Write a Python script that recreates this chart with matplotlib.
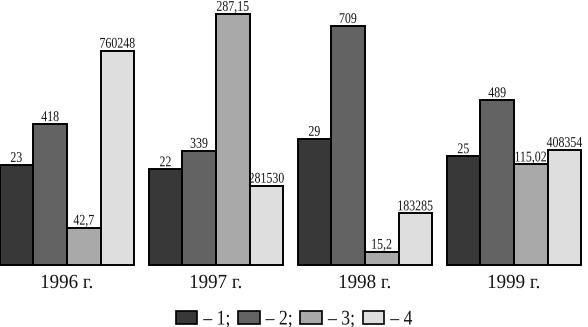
import matplotlib
matplotlib.use("Agg")
import matplotlib.pyplot as plt
from matplotlib.patches import PathPatch, Rectangle
from matplotlib.textpath import TextPath
from matplotlib.font_manager import FontProperties
from matplotlib.transforms import Affine2D, IdentityTransform

# Data
years = ["1996 г.", "1997 г.", "1998 г.", "1999 г."]
s1 = [23, 22, 29, 25]
s2 = [418, 339, 709, 489]
s3 = [42.7, 287.15, 15.2, 115.02]
s4 = [760248, 281530, 183285, 408354]
s1_labels = ["23", "22", "29", "25"]
s2_labels = ["418", "339", "709", "489"]
s3_labels = ["42,7", "287,15", "15,2", "115,02"]
s4_labels = ["760248", "281530", "183285", "408354"]
legend_labels = ["– 1;", "– 2;", "– 3;", "– 4"]

# each series is drawn on its own scale: value reaching the top of the axes
series_top = [60.9, 786, 303, 940000]
colors = ["#383838", "#636363", "#a9a9a9", "#dedede"]
text_color = "#151515"

W, H = 588, 327
fig = plt.figure(figsize=(W / 100, H / 100), dpi=100)
base_px = 265
ax = fig.add_axes([0, (H - base_px) / H, 1, base_px / H])
ax.set_xlim(0, W)
ax.set_ylim(0, 1)
ax.axis("off")

serif = FontProperties(family="Liberation Serif")


def narrow_text(x, y_top, s, size_pt, sx=1.0, ha="center"):
    """Draw condensed serif text; x in pixels, y_top = baseline pixels from top."""
    tp = TextPath((0, 0), s, size=size_pt * 100 / 72, prop=serif)
    ext = tp.get_extents()
    if ha == "center":
        ox = (ext.x0 + ext.x1) / 2
    elif ha == "left":
        ox = ext.x0
    else:
        ox = ext.x1
    tr = Affine2D().translate(-ox, 0).scale(sx, 1).translate(x, H - y_top)
    patch = PathPatch(tr.transform_path(tp), facecolor=text_color,
                      edgecolor="none", transform=IdentityTransform())
    fig.add_artist(patch)
    return (ext.x1 - ext.x0) * sx


bar_w = 33.7
group_step = 149
group_x0 = -0.5

all_series = [s1, s2, s3, s4]
all_labels = [s1_labels, s2_labels, s3_labels, s4_labels]
for k, (vals, labs) in enumerate(zip(all_series, all_labels)):
    xs = [group_x0 + g * group_step + k * bar_w + bar_w / 2 for g in range(len(vals))]
    hs = [v / series_top[k] for v in vals]
    bars = ax.bar(xs, hs, width=bar_w, color=colors[k], edgecolor="black",
                  linewidth=1.4, clip_on=False)
    for b, lab in zip(bars, labs):
        px, py = ax.transData.transform((b.get_x() + b.get_width() / 2, b.get_height()))
        narrow_text(px, H - py - 3, lab, 10.7, sx=0.8)

for g, yr in enumerate(years):
    cx = group_x0 + g * group_step + 2 * bar_w
    narrow_text(cx, 288, yr, 14.4, sx=0.95)

# legend row
sq_w, sq_h = 21.5, 13.3
sq_top = 311
x = 175.7
for c, lab in zip(colors, legend_labels):
    fig.add_artist(Rectangle((x, H - sq_top - sq_h), sq_w, sq_h, facecolor=c,
                             edgecolor="black", linewidth=1.2,
                             transform=IdentityTransform()))
    tw = narrow_text(x + sq_w + 6, 324.5, lab, 15, sx=0.85, ha="left")
    x = x + sq_w + 6 + tw + 9

fig.savefig("out.png", dpi=100, facecolor="white")
